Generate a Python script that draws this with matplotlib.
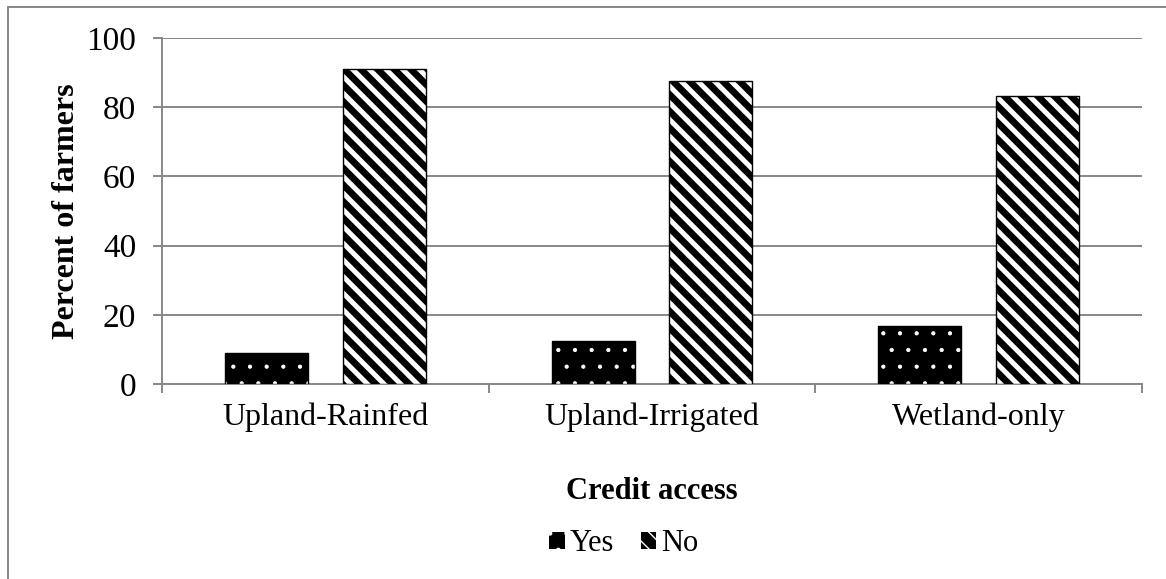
import matplotlib
matplotlib.use("Agg")
import matplotlib.pyplot as plt
from matplotlib.patches import Rectangle
import numpy as np

plt.rcParams['font.family'] = ['Liberation Serif', 'DejaVu Serif']

# 信贷获取情况（农户百分比）
groups = ["Upland-Rainfed", "Upland-Irrigated", "Wetland-only"]
yes_pct = [9.0, 12.4, 16.7]
no_pct = [91.0, 87.6, 83.3]

grid_c = '#878787'

fig = plt.figure(figsize=(11.66, 5.79), dpi=100)
ax = fig.add_axes([0.1389, 0.3368, 0.8405, 0.5976])

x = np.arange(len(groups))
w = 0.254

# 填充花纹颜色跟随边框色，所以先画白色花纹的柱子，再叠一层黑色边框
with plt.rc_context({'hatch.linewidth': 0.6}):
    b_yes = ax.bar(x - 0.18, yes_pct, w, color='black', edgecolor='white',
                   hatch='.', linewidth=0, label='Yes', zorder=3)
with plt.rc_context({'hatch.linewidth': 3.6}):
    b_no = ax.bar(x + 0.18, no_pct, w, color='black', edgecolor='white',
                  hatch='\\\\', linewidth=0, label='No', zorder=3)

for bars, lw in ((b_yes, 0.6), (b_no, 3.6)):
    for b in bars:
        if hasattr(b, 'set_hatch_linewidth'):
            b.set_hatch_linewidth(lw)

ax.bar(x - 0.18, yes_pct, w, fill=False, edgecolor='black', linewidth=1.0, zorder=4)
ax.bar(x + 0.18, no_pct, w, fill=False, edgecolor='black', linewidth=1.0, zorder=4)

ax.set_xlim(-0.5, 2.5)
ax.set_ylim(0, 100)
ax.set_yticks(range(0, 101, 20))
ax.set_xticks(x)
ax.set_xticklabels(groups)
ax.set_xticks([-0.5, 0.5, 1.5, 2.5], minor=True)

ax.yaxis.grid(True, color=grid_c, linewidth=1.4, zorder=0)
ax.set_axisbelow(True)
for s in ('top', 'right'):
    ax.spines[s].set_visible(False)
for s in ('left', 'bottom'):
    ax.spines[s].set_color(grid_c)
    ax.spines[s].set_linewidth(1.4)

ax.tick_params(axis='y', direction='out', length=6.5, width=1.4, color=grid_c,
               labelsize=24, pad=12)
ax.tick_params(axis='x', which='major', length=0, labelsize=23, pad=13)
ax.tick_params(axis='x', which='minor', direction='out', length=6.5, width=1.4,
               color=grid_c)

ax.set_ylabel("Percent of farmers", fontsize=23, fontweight='bold', labelpad=4)
ax.set_xlabel("Credit access", fontsize=22, fontweight='bold', labelpad=33)

leg = fig.legend(handles=[b_yes[0], b_no[0]], labels=['Yes', 'No'],
                 loc='center', bbox_to_anchor=(0.535, 0.061), ncol=2,
                 frameon=False, fontsize=22, handlelength=0.5, handleheight=0.5,
                 handletextpad=0.15, columnspacing=0.9)

# 外框
fig.patches.append(Rectangle((8 / 1166, -0.05), 1.1, 1 - 7 / 579 + 0.05,
                             transform=fig.transFigure, fill=False,
                             edgecolor=grid_c, linewidth=1.4))

fig.savefig('out.png', dpi=100)
